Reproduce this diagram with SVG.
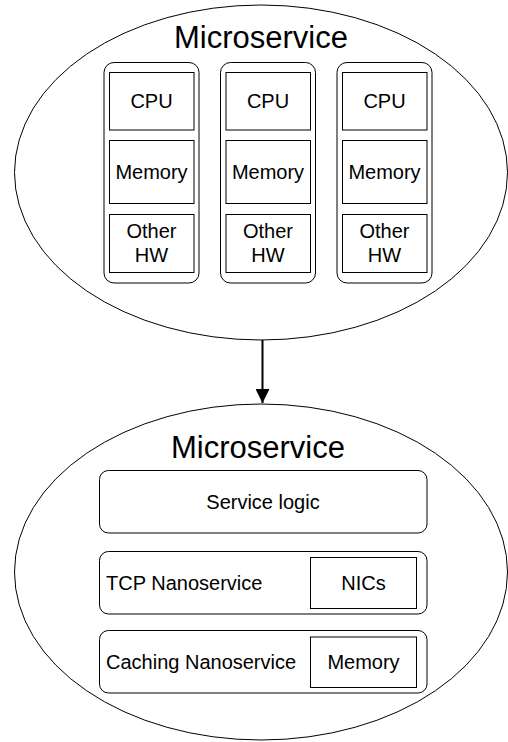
<svg xmlns="http://www.w3.org/2000/svg" width="508" height="742" viewBox="0 0 508 742">
  <defs>
    <style>
      .ell { fill: #ffffff; stroke: #000000; stroke-width: 1; }
      .box { fill: #ffffff; stroke: #000000; stroke-width: 1; }
      .part { fill: #ffffff; stroke: #000000; stroke-width: 1; }
      .title { font-family: "Liberation Sans", Arial, sans-serif; font-size: 31px; fill: #000000; text-anchor: middle; }
      .lbl { font-family: "Liberation Sans", Arial, sans-serif; font-size: 20px; fill: #000000; text-anchor: middle; }
      .lbl-l { font-family: "Liberation Sans", Arial, sans-serif; font-size: 20px; fill: #000000; }
      .edge { fill: none; stroke: #000000; stroke-width: 2; }
    </style>
    <marker id="arrow" viewBox="0 0 14 14" refX="14" refY="7" markerWidth="14" markerHeight="14" markerUnits="userSpaceOnUse" orient="auto">
      <path d="M0,0 L14,7 L0,14 Z" fill="#000000"/>
    </marker>
  </defs>

  <!-- Upper microservice: three hardware stacks -->
  <g id="microservice-hw">
    <ellipse class="ell" cx="261" cy="172.5" rx="246.5" ry="167.5"/>
    <text class="title" x="261" y="48">Microservice</text>
  </g>

  <g id="stack-1">
    <rect class="box" x="104" y="62.5" width="95" height="220.5" rx="10"/>
    <rect class="part" x="109.5" y="72.5" width="84.5" height="57.5"/>
    <text class="lbl" x="151.5" y="108">CPU</text>
    <rect class="part" x="109.5" y="140.5" width="84.5" height="63"/>
    <text class="lbl" x="151.5" y="179">Memory</text>
    <rect class="part" x="109.5" y="214.5" width="84.5" height="58"/>
    <text class="lbl" x="151.5" y="238">Other</text>
    <text class="lbl" x="151.5" y="262">HW</text>
  </g>

  <g id="stack-2">
    <rect class="box" x="220.5" y="62.5" width="95" height="220.5" rx="10"/>
    <rect class="part" x="226" y="72.5" width="84.5" height="57.5"/>
    <text class="lbl" x="268" y="108">CPU</text>
    <rect class="part" x="226" y="140.5" width="84.5" height="63"/>
    <text class="lbl" x="268" y="179">Memory</text>
    <rect class="part" x="226" y="214.5" width="84.5" height="58"/>
    <text class="lbl" x="268" y="238">Other</text>
    <text class="lbl" x="268" y="262">HW</text>
  </g>

  <g id="stack-3">
    <rect class="box" x="337" y="62.5" width="95" height="220.5" rx="10"/>
    <rect class="part" x="342.5" y="72.5" width="84.5" height="57.5"/>
    <text class="lbl" x="384.5" y="108">CPU</text>
    <rect class="part" x="342.5" y="140.5" width="84.5" height="63"/>
    <text class="lbl" x="384.5" y="179">Memory</text>
    <rect class="part" x="342.5" y="214.5" width="84.5" height="58"/>
    <text class="lbl" x="384.5" y="238">Other</text>
    <text class="lbl" x="384.5" y="262">HW</text>
  </g>

  <!-- Connector between the two microservices -->
  <g id="connectors">
    <line class="edge" x1="262.5" y1="340" x2="262.5" y2="403" marker-end="url(#arrow)"/>
  </g>

  <!-- Lower microservice: nanoservice layers -->
  <g id="microservice-nano">
    <ellipse class="ell" cx="261" cy="572" rx="246.5" ry="168"/>
    <text class="title" x="258" y="458">Microservice</text>
  </g>

  <g id="service-logic">
    <rect class="box" x="99.5" y="470.5" width="327.5" height="62.5" rx="9"/>
    <text class="lbl" x="263" y="509">Service logic</text>
  </g>

  <g id="tcp-nanoservice">
    <rect class="box" x="99.5" y="551.5" width="327.5" height="62.5" rx="9"/>
    <text class="lbl-l" x="106" y="590">TCP Nanoservice</text>
    <rect class="part" x="310.5" y="557.5" width="106" height="51"/>
    <text class="lbl" x="363.5" y="590">NICs</text>
  </g>

  <g id="caching-nanoservice">
    <rect class="box" x="99.5" y="630.5" width="327.5" height="62.5" rx="9"/>
    <text class="lbl-l" x="106" y="669">Caching Nanoservice</text>
    <rect class="part" x="310.5" y="637" width="106" height="50.5"/>
    <text class="lbl" x="363.5" y="669">Memory</text>
  </g>
</svg>
